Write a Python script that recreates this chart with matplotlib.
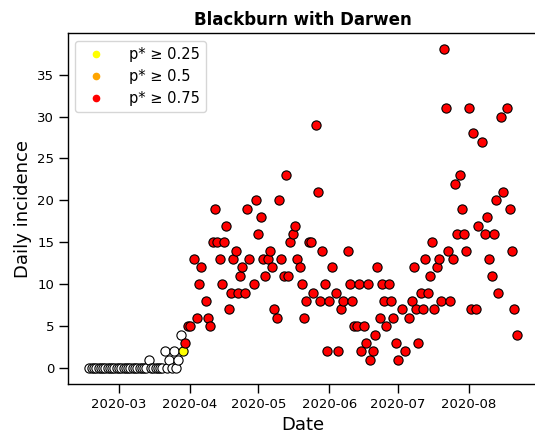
import pandas as pd
import matplotlib
matplotlib.use('Agg')
import matplotlib.pyplot as plt
import matplotlib.dates as mdates
from matplotlib.lines import Line2D

start = pd.Timestamp('2020-03-01')

# day = days after 1 March 2020 (negative = February)
day = list(range(-13, 29)) + [
    29, 30, 31, 33, 34, 35, 36, 38, 39, 40, 41, 42, 43, 44, 45, 46, 47, 48, 49, 50,
    51, 52, 53, 54, 55, 56, 57, 59, 60, 61, 62, 63, 64, 65, 66, 67, 68, 69, 70, 71,
    72, 73, 74, 75, 76, 77, 78, 79, 80, 81, 82, 83, 84, 85, 86, 87, 88, 89, 90, 91,
    92, 93, 95, 96, 97, 98, 100, 101, 102, 103, 104, 105, 106, 107, 108, 109, 110,
    111, 112, 113, 114, 115, 116, 117, 118, 119, 120, 121, 122, 124, 125, 127, 128,
    129, 130, 131, 132, 133, 134, 135, 136, 137, 138, 139, 140, 141, 142, 143, 144,
    145, 146, 147, 148, 149, 150, 151, 152, 153, 154, 155, 156, 157, 159, 160, 161,
    162, 163, 164, 165, 166, 167, 168, 170, 171, 172, 173, 174]

cases = [0] * 26 + [1, 0, 0, 0, 0, 0, 0, 2, 0, 1, 0, 2, 0, 1, 4, 2] + [
    3, 5, 5, 13, 6, 10, 12, 8, 6, 5, 15, 19, 15, 13, 10, 15, 17, 7, 9, 13,
    14, 9, 11, 12, 9, 19, 13, 10, 20, 16, 18, 13, 11, 13, 14, 12, 7, 6, 20, 13,
    11, 23, 11, 15, 16, 17, 13, 12, 10, 6, 8, 15, 15, 9, 29, 21, 8, 14, 10, 2,
    8, 12, 9, 2, 7, 8, 14, 10, 8, 5, 5, 10, 2, 5, 3, 10, 1,
    2, 4, 12, 6, 10, 8, 5, 10, 8, 6, 3, 1, 7, 2, 6, 8,
    12, 7, 3, 9, 7, 13, 9, 11, 15, 7, 12, 13, 8, 38, 31, 14,
    8, 13, 22, 16, 23, 19, 16, 14, 31, 7, 28, 7, 17, 27, 16, 18,
    13, 11, 16, 20, 9, 30, 21, 31, 19, 14, 7, 4]

yellow_day = 28   # p* >= 0.25 only
red_from = 29     # p* >= 0.75 from here on

df = pd.DataFrame({'day': day, 'cases': cases})
df['date'] = start + pd.to_timedelta(df['day'], unit='D')

fig = plt.figure(figsize=(5.35, 4.36), dpi=100)
ax = fig.add_axes([68 / 535, 1 - 384 / 436, (538 - 68) / 535, (384 - 33.5) / 436])

white = df[df['day'] < yellow_day]
yellow = df[df['day'] == yellow_day]
red = df[df['day'] >= red_from]

kw = dict(s=44, edgecolors='black', linewidths=0.8)
ax.scatter(white['date'], white['cases'], c='white', **kw)
ax.scatter(yellow['date'], yellow['cases'], c='#ffff00', **kw)
ax.scatter(red['date'], red['cases'], c='#ff0000', **kw)

ax.xaxis.set_major_locator(mdates.MonthLocator())
ax.xaxis.set_major_formatter(mdates.DateFormatter('%Y-%m'))
ax.tick_params(labelsize=9.5, length=6.5, width=1)
for sp in ax.spines.values():
    sp.set_linewidth(1)

ax.set_title('Blackburn with Darwen', fontsize=12, fontweight='bold')
ax.set_xlabel('Date', fontsize=13)
ax.set_ylabel('Daily incidence', fontsize=13)

handles = [Line2D([], [], ls='', marker='o', ms=4.5, color=c)
           for c in ['#ffff00', '#ffa500', '#ff0000']]
ax.legend(handles, ['p* ≥ 0.25', 'p* ≥ 0.5', 'p* ≥ 0.75'], loc='upper left',
          fontsize=10.5, handletextpad=1.3)

fig.savefig('out.png', dpi=100)
